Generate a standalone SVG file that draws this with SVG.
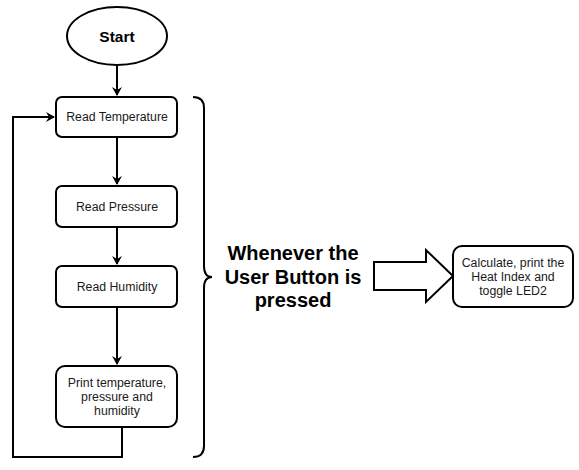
<svg xmlns="http://www.w3.org/2000/svg" width="579" height="470" viewBox="0 0 579 470">
<defs>
<marker id="ah" markerWidth="10" markerHeight="10" refX="8" refY="5" orient="auto" markerUnits="userSpaceOnUse">
<path d="M0,0 L9,5 L0,10 L3,5 Z" fill="#000"/>
</marker>
<style>
.box{fill:#fff;stroke:#000;stroke-width:2}
.t{font-family:"Liberation Sans",Arial,sans-serif;font-size:12.3px;fill:#1a1a1a;text-anchor:middle}
.b{font-family:"Liberation Sans",Arial,sans-serif;font-weight:bold;fill:#000;text-anchor:middle}
.c{fill:none;stroke:#000;stroke-width:2}
</style>
</defs>
<rect width="579" height="470" fill="#fff"/>
<g id="connectors">
<path class="c" d="M117,66 V95" marker-end="url(#ah)"/>
<path class="c" d="M117,137 V184" marker-end="url(#ah)"/>
<path class="c" d="M117,227 V264" marker-end="url(#ah)"/>
<path class="c" d="M117,307 V364" marker-end="url(#ah)"/>
<path class="c" d="M122,427 V457 H13 V117 H54" marker-end="url(#ah)"/>
</g>
<g id="start">
<ellipse class="box" cx="117" cy="36" rx="50" ry="29"/>
<text class="b" x="117" y="42" font-size="15.5">Start</text>
</g>
<g id="read-temperature">
<rect class="box" x="56" y="97" width="121" height="40" rx="6"/>
<text class="t" x="117" y="121">Read Temperature</text>
</g>
<g id="read-pressure">
<rect class="box" x="56" y="186" width="121" height="41" rx="6"/>
<text class="t" x="117" y="211">Read Pressure</text>
</g>
<g id="read-humidity">
<rect class="box" x="56" y="266" width="121" height="41" rx="6"/>
<text class="t" x="117" y="291">Read Humidity</text>
</g>
<g id="print">
<rect class="box" x="56" y="366" width="121" height="61" rx="9"/>
<text class="t" x="117" y="387">Print temperature,</text>
<text class="t" x="117" y="401">pressure and</text>
<text class="t" x="117" y="415">humidity</text>
</g>
<g id="brace">
<path class="c" d="M193,97 Q204,97 204,108 V266 Q204,277 212,277 Q204,277 204,288 V446 Q204,457 193,457"/>
</g>
<g id="label">
<text class="b" x="293" y="260" font-size="20">Whenever the</text>
<text class="b" x="293" y="284" font-size="20">User Button is</text>
<text class="b" x="293" y="307" font-size="20">pressed</text>
</g>
<g id="block-arrow">
<path d="M374,262 H426 V250 L453,276 L426,302 V290 H374 Z" fill="#fff" stroke="#000" stroke-width="2"/>
</g>
<g id="heat-index">
<rect class="box" x="453" y="246" width="120" height="61" rx="9"/>
<text class="t" x="513" y="267">Calculate, print the</text>
<text class="t" x="513" y="281">Heat Index and</text>
<text class="t" x="513" y="295">toggle LED2</text>
</g>
</svg>
